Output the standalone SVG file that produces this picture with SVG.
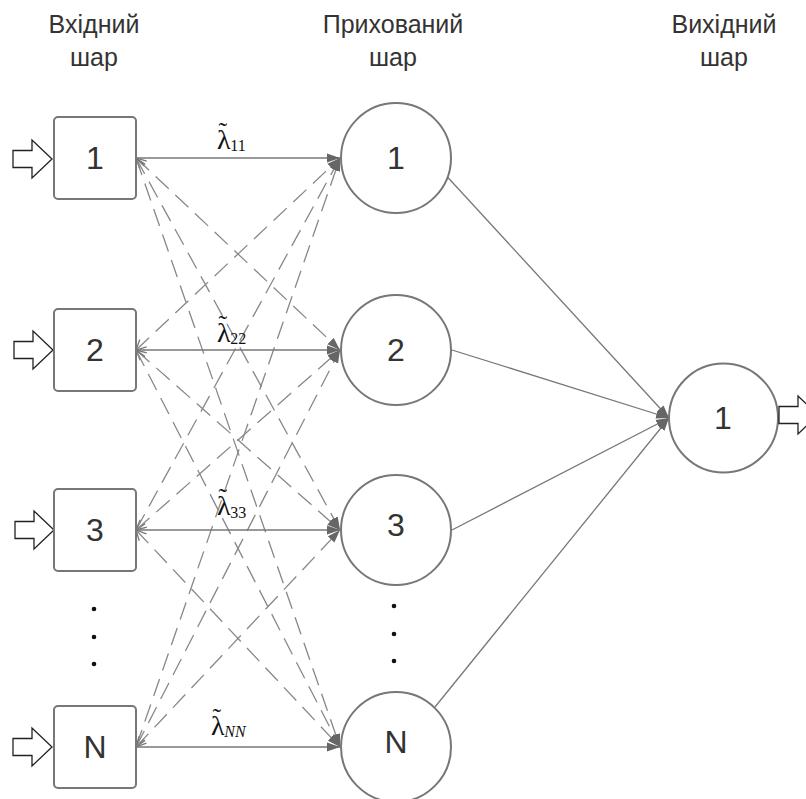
<svg xmlns="http://www.w3.org/2000/svg" width="806" height="799" viewBox="0 0 806 799">
  <defs>
    <marker id="arrowFill" markerUnits="userSpaceOnUse" markerWidth="14" markerHeight="10" refX="13" refY="5" orient="auto">
      <path d="M0,0.5 L13,5 L0,9.5 z" fill="#666"/>
    </marker>
    <marker id="chevron" markerUnits="userSpaceOnUse" markerWidth="12" markerHeight="12" refX="11" refY="6" orient="auto-start-reverse" overflow="visible">
      <path d="M1,1 L11,6 L1,11" fill="none" stroke="#777" stroke-width="1.3"/>
    </marker>
    <path id="blockArrow" d="M0,-8.5 L19,-8.5 L19,-19 L39,0 L19,19 L19,8.5 L0,8.5 z"/>
  </defs>
  <style>
    .title { font-family: "Liberation Sans", Arial, sans-serif; font-size: 25px; fill: #333; text-anchor: middle; }
    .num { font-family: "Liberation Sans", Arial, sans-serif; font-size: 32px; fill: #333; text-anchor: middle; }
    .box { fill: #fff; stroke: #777; stroke-width: 2; }
    .neuron { fill: #fff; stroke: #777; stroke-width: 2; }
    .solid { stroke: #777; stroke-width: 1.5; fill: none; marker-end: url(#arrowFill); }
    .dash { stroke: #888; stroke-width: 1.3; fill: none; stroke-dasharray: 18 9; marker-start: url(#chevron); marker-end: url(#arrowFill); }
    .out { stroke: #777; stroke-width: 1.3; fill: none; marker-end: url(#arrowFill); }
    .io { fill: #fff; stroke: #222; stroke-width: 1.3; }
    .dot { fill: #111; }
    .lam { font-family: "Liberation Serif", "Times New Roman", serif; font-size: 28px; fill: #111; }
    .tl { font-size: 26px; }
    .sub { font-size: 16px; }
  </style>

  <!-- layer titles -->
  <g id="titles">
    <text class="title" x="94" y="33">Вхідний</text>
    <text class="title" x="94" y="66">шар</text>
    <text class="title" x="393" y="33">Прихований</text>
    <text class="title" x="393" y="66">шар</text>
    <text class="title" x="724" y="33">Вихідний</text>
    <text class="title" x="724" y="66">шар</text>
  </g>

  <!-- connectors -->
  <g id="connectors">
    <!-- cross weights (dashed) -->
    <line class="dash" x1="136" y1="158" x2="340" y2="350"/>
    <line class="dash" x1="136" y1="158" x2="340" y2="530"/>
    <line class="dash" x1="136" y1="158" x2="340" y2="747"/>
    <line class="dash" x1="136" y1="350" x2="340" y2="158"/>
    <line class="dash" x1="136" y1="350" x2="340" y2="530"/>
    <line class="dash" x1="136" y1="350" x2="340" y2="747"/>
    <line class="dash" x1="136" y1="530" x2="340" y2="158"/>
    <line class="dash" x1="136" y1="530" x2="340" y2="350"/>
    <line class="dash" x1="136" y1="530" x2="340" y2="747"/>
    <line class="dash" x1="136" y1="747" x2="340" y2="158"/>
    <line class="dash" x1="136" y1="747" x2="340" y2="350"/>
    <line class="dash" x1="136" y1="747" x2="340" y2="530"/>
    <!-- direct weights -->
    <line class="solid" x1="136" y1="158" x2="340" y2="158"/>
    <line class="solid" x1="136" y1="350" x2="340" y2="350"/>
    <line class="solid" x1="136" y1="530" x2="340" y2="530"/>
    <line class="solid" x1="136" y1="747" x2="340" y2="747"/>
    <!-- hidden to output -->
    <line class="out" x1="430" y1="158" x2="669" y2="418"/>
    <line class="out" x1="452" y1="350" x2="669" y2="418"/>
    <line class="out" x1="452" y1="530" x2="669" y2="418"/>
    <line class="out" x1="435" y1="707" x2="669" y2="418"/>
  </g>

  <!-- weight labels: lambda, tilde raised over it, then subscript -->
  <g id="weights">
    <text class="lam" x="217" y="149">λ<tspan class="tl" dx="-12" dy="-9">˜</tspan><tspan class="sub" dx="3" dy="11">11</tspan></text>
    <text class="lam" x="217" y="342">λ<tspan class="tl" dx="-12" dy="-9">˜</tspan><tspan class="sub" dx="3" dy="11">22</tspan></text>
    <text class="lam" x="217" y="515">λ<tspan class="tl" dx="-12" dy="-9">˜</tspan><tspan class="sub" dx="3" dy="12">33</tspan></text>
    <text class="lam" x="211" y="735">λ<tspan class="tl" dx="-12" dy="-9">˜</tspan><tspan class="sub" dx="3" dy="11" font-style="italic">NN</tspan></text>
  </g>

  <!-- input layer -->
  <g id="in1">
    <use href="#blockArrow" class="io" x="13" y="159"/>
    <rect class="box" x="54" y="117" width="82" height="82" rx="4"/>
    <text class="num" x="95" y="169">1</text>
  </g>
  <g id="in2">
    <use href="#blockArrow" class="io" x="14" y="350"/>
    <rect class="box" x="54" y="309" width="82" height="82" rx="4"/>
    <text class="num" x="95" y="361">2</text>
  </g>
  <g id="in3">
    <use href="#blockArrow" class="io" x="15" y="530"/>
    <rect class="box" x="54" y="489" width="82" height="82" rx="4"/>
    <text class="num" x="95" y="541">3</text>
  </g>
  <g id="inN">
    <use href="#blockArrow" class="io" x="13" y="747"/>
    <rect class="box" x="54" y="706" width="82" height="82" rx="4"/>
    <text class="num" x="95" y="758">N</text>
  </g>
  <g id="inDots">
    <circle class="dot" cx="94" cy="609" r="2.3"/>
    <circle class="dot" cx="94" cy="637" r="2.3"/>
    <circle class="dot" cx="94" cy="664" r="2.3"/>
  </g>

  <!-- hidden layer -->
  <g id="h1">
    <circle class="neuron" cx="396" cy="158" r="55"/>
    <text class="num" x="396" y="169">1</text>
  </g>
  <g id="h2">
    <circle class="neuron" cx="396" cy="350" r="55"/>
    <text class="num" x="396" y="361">2</text>
  </g>
  <g id="h3">
    <circle class="neuron" cx="396" cy="530" r="55"/>
    <text class="num" x="396" y="536">3</text>
  </g>
  <g id="hN">
    <circle class="neuron" cx="396" cy="747" r="55"/>
    <text class="num" x="396" y="753">N</text>
  </g>
  <g id="hDots">
    <circle class="dot" cx="394" cy="606" r="2.3"/>
    <circle class="dot" cx="394" cy="634" r="2.3"/>
    <circle class="dot" cx="394" cy="661" r="2.3"/>
  </g>

  <!-- output layer -->
  <g id="out1">
    <circle class="neuron" cx="723.5" cy="418" r="54.5"/>
    <text class="num" x="723" y="429">1</text>
    <use href="#blockArrow" class="io" x="779" y="415"/>
  </g>
</svg>
